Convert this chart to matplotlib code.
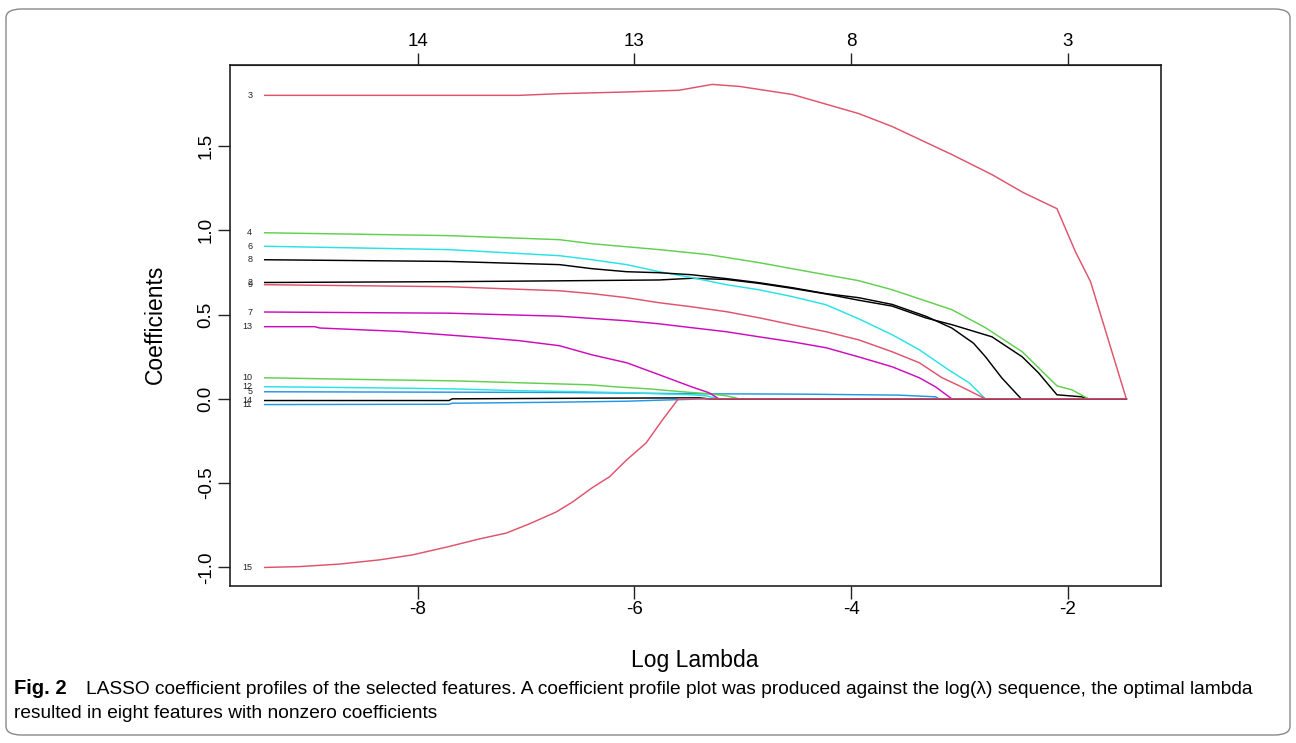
import numpy as np
import matplotlib.pyplot as plt
from matplotlib.patches import FancyBboxPatch

plt.rcParams['axes.unicode_minus'] = False
plt.rcParams['font.family'] = ['Liberation Sans', 'DejaVu Sans']

# R default palette (R >= 4.0)
BLACK, RED, GREEN, BLUE, CYAN, MAGENTA = '#000000', '#DF536B', '#61D04F', '#2297E6', '#28E2E5', '#CD0BBC'

LAM_END = -1.46

# coefficient paths (log lambda, coefficient)
lam_f2 = [-9.41, -7.71, -6.69, -5.77, -5.47, -5.15, -4.85, -4.54, -4.23, -3.93, -3.62, -3.31, -3.07, -2.70, -2.42, -2.27, -2.10, -1.87, -1.81]
coef_f2 = [0.690, 0.695, 0.700, 0.705, 0.715, 0.708, 0.685, 0.655, 0.622, 0.585, 0.550, 0.480, 0.440, 0.368, 0.249, 0.154, 0.024, 0.012, 0.0]

lam_f3 = [-9.41, -7.06, -6.69, -6.07, -5.59, -5.28, -5.03, -4.54, -3.93, -3.62, -3.07, -2.70, -2.41, -2.10, -1.93, -1.79, -1.46]
coef_f3 = [1.80, 1.80, 1.81, 1.82, 1.83, 1.865, 1.853, 1.805, 1.692, 1.615, 1.449, 1.330, 1.223, 1.128, 0.873, 0.695, 0.0]

lam_f4 = [-9.41, -7.71, -6.69, -6.39, -5.77, -5.31, -4.85, -4.39, -3.93, -3.62, -3.07, -2.76, -2.42, -2.10, -1.96, -1.81]
coef_f4 = [0.985, 0.968, 0.944, 0.920, 0.885, 0.855, 0.808, 0.754, 0.701, 0.647, 0.529, 0.422, 0.279, 0.077, 0.053, 0.0]

lam_f5 = [-9.41, -6.69, -5.40, -4.48, -3.56, -3.22, -3.19]
coef_f5 = [0.042, 0.038, 0.030, 0.028, 0.022, 0.012, 0.0]

lam_f6 = [-9.41, -7.71, -6.69, -6.39, -6.07, -5.77, -5.47, -5.15, -4.85, -4.54, -4.23, -3.93, -3.62, -3.37, -3.10, -2.91, -2.76]
coef_f6 = [0.905, 0.885, 0.849, 0.825, 0.796, 0.754, 0.719, 0.677, 0.647, 0.606, 0.558, 0.475, 0.380, 0.291, 0.172, 0.095, 0.0]

lam_f7 = [-9.41, -7.71, -6.69, -6.07, -5.77, -5.47, -5.15, -4.85, -4.54, -4.23, -3.93, -3.62, -3.37, -3.22, -3.07]
coef_f7 = [0.515, 0.508, 0.490, 0.463, 0.445, 0.422, 0.398, 0.368, 0.338, 0.303, 0.249, 0.190, 0.125, 0.071, 0.0]

lam_f8 = [-9.41, -7.71, -6.69, -6.39, -6.07, -5.77, -5.47, -5.15, -4.85, -4.54, -4.23, -3.93, -3.62, -3.31, -3.07, -2.87, -2.76, -2.61, -2.43]
coef_f8 = [0.825, 0.815, 0.796, 0.772, 0.754, 0.748, 0.736, 0.713, 0.689, 0.659, 0.624, 0.600, 0.560, 0.490, 0.420, 0.330, 0.250, 0.125, 0.0]

lam_f9 = [-9.41, -7.71, -6.69, -6.39, -6.07, -5.77, -5.47, -5.15, -4.85, -4.54, -4.23, -3.93, -3.62, -3.37, -3.16, -3.00, -2.76]
coef_f9 = [0.677, 0.665, 0.641, 0.624, 0.600, 0.570, 0.546, 0.517, 0.481, 0.439, 0.398, 0.350, 0.279, 0.214, 0.125, 0.077, 0.0]

lam_f10 = [-9.41, -8.35, -7.68, -7.04, -6.72, -6.40, -6.17, -5.86, -5.56, -5.31, -5.15, -5.03]
coef_f10 = [0.125, 0.113, 0.107, 0.095, 0.089, 0.083, 0.071, 0.059, 0.042, 0.030, 0.018, 0.0]

lam_f11 = [-9.41, -7.71, -7.68, -6.72, -6.07, -5.77, -5.49, -5.40]
coef_f11 = [-0.034, -0.032, -0.026, -0.020, -0.014, -0.008, -0.003, 0.0]

lam_f12 = [-9.41, -8.35, -7.68, -7.04, -6.48, -6.07, -5.77, -5.47, -5.34, -5.22]
coef_f12 = [0.072, 0.065, 0.059, 0.048, 0.042, 0.036, 0.030, 0.024, 0.018, 0.0]

lam_f13 = [-9.41, -8.95, -8.90, -8.17, -7.43, -7.06, -6.69, -6.39, -6.07, -5.77, -5.47, -5.31, -5.22]
coef_f13 = [0.428, 0.428, 0.420, 0.400, 0.365, 0.345, 0.315, 0.261, 0.214, 0.143, 0.071, 0.036, 0.0]

lam_f14 = [-9.41, -7.71, -7.68, -6.32, -5.40, -5.31]
coef_f14 = [-0.010, -0.010, 0.0, 0.004, 0.006, 0.0]

lam_f15 = [-9.41, -9.09, -8.72, -8.35, -8.05, -7.73, -7.43, -7.18, -6.97, -6.72, -6.57, -6.39, -6.23, -6.07, -5.89, -5.74, -5.60, -5.59]
coef_f15 = [-1.0, -0.995, -0.98, -0.955, -0.926, -0.879, -0.831, -0.796, -0.742, -0.671, -0.612, -0.528, -0.463, -0.362, -0.261, -0.125, -0.006, 0.0]

features = [2, 3, 4, 5, 6, 7, 8, 9, 10, 11, 12, 13, 14, 15]
paths = [(lam_f2, coef_f2), (lam_f3, coef_f3), (lam_f4, coef_f4), (lam_f5, coef_f5),
         (lam_f6, coef_f6), (lam_f7, coef_f7), (lam_f8, coef_f8), (lam_f9, coef_f9),
         (lam_f10, coef_f10), (lam_f11, coef_f11), (lam_f12, coef_f12), (lam_f13, coef_f13),
         (lam_f14, coef_f14), (lam_f15, coef_f15)]
colors = [BLACK, RED, GREEN, BLUE, CYAN, MAGENTA, BLACK, RED, GREEN, BLUE, CYAN, MAGENTA, BLACK, RED]

x_ticks = [-8, -6, -4, -2]
nonzero_counts = ['14', '13', '8', '3']
y_ticks = [-1.0, -0.5, 0.0, 0.5, 1.0, 1.5]

caption_bold = 'Fig. 2'
caption_line1 = ('LASSO coefficient profiles of the selected features. A coefficient profile plot was '
                 'produced against the log(\u03bb) sequence, the optimal lambda')
caption_line2 = 'resulted in eight features with nonzero coefficients'

W, H = 1296, 743
fig = plt.figure(figsize=(W / 100, H / 100), dpi=100)
ax = fig.add_axes([230 / W, 1 - 586 / H, (1161 - 230) / W, (586 - 65) / H])

for (lam, coef), col in zip(paths, colors):
    lam = list(lam) + [LAM_END]
    coef = list(coef) + [0.0]
    ax.plot(lam, coef, color=col, lw=1.05, solid_joinstyle='miter')

# feature numbers at the left end of each path (glmnet label=TRUE)
for f, (lam, coef) in zip(features, paths):
    ax.annotate(str(f), (lam[0], coef[0]), xytext=(-9, 0), textcoords='offset points',
                ha='right', va='center', fontsize=6.5, color='#222222')

ax.set_xlim(-9.73, -1.14)
ax.set_ylim(-1.11, 1.98)
ax.set_xticks(x_ticks)
ax.set_xticklabels([str(t) for t in x_ticks])
ax.set_yticks(y_ticks)
ax.set_yticklabels([f'{t:.1f}' for t in y_ticks], rotation=90, va='center')
ax.tick_params(direction='out', length=9, width=1.0, labelsize=13.5, pad=2, color='#222222')
for s in ax.spines.values():
    s.set_linewidth(1.2)
    s.set_color('#222222')

top = ax.secondary_xaxis('top')
top.set_xticks(x_ticks)
top.set_xticklabels(nonzero_counts)
top.tick_params(direction='out', length=9, width=1.0, labelsize=13.5, pad=2, color='#222222')

fig.text(695 / W, 1 - 661 / H, 'Log Lambda', ha='center', va='center', fontsize=16.5)
fig.text(155 / W, 1 - 324 / H, 'Coefficients', ha='center', va='center', fontsize=16.5, rotation=90)

cap_font = ['Liberation Sans', 'DejaVu Sans']
fig.text(14 / W, 1 - 689 / H, caption_bold, ha='left', va='center', fontsize=14.5,
         fontweight='bold', family=cap_font)
fig.text(86 / W, 1 - 689 / H, caption_line1, ha='left', va='center', fontsize=13.8, family=cap_font)
fig.text(14 / W, 1 - 714 / H, caption_line2, ha='left', va='center', fontsize=13.8, family=cap_font)

frame = FancyBboxPatch((6 / W, 8 / H), 1284 / W, 726 / H, boxstyle='round,pad=0,rounding_size=0.012',
                       transform=fig.transFigure, fill=False, edgecolor='#888888', lw=1.0)
fig.patches.append(frame)

fig.savefig('out.png', dpi=100)
